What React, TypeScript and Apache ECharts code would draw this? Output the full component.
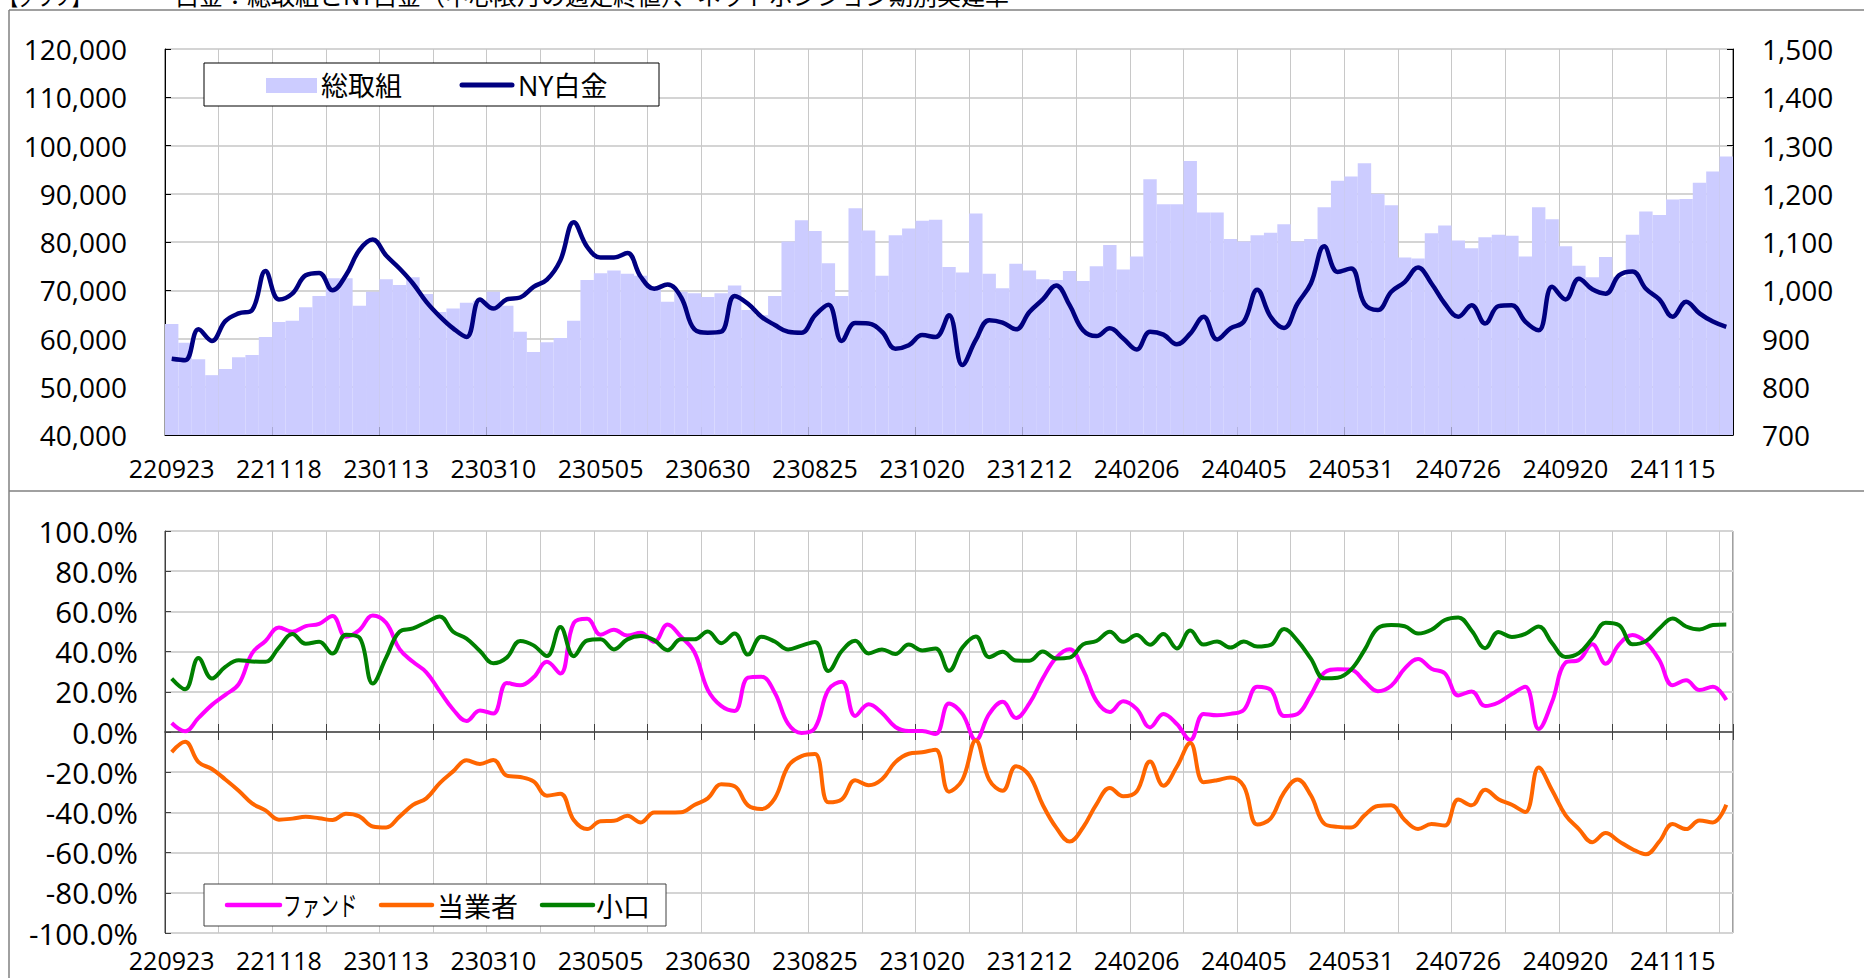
import React, { useEffect, useRef } from 'react';
import * as echarts from 'echarts';

const dates = [
  '220923','220930','221007','221014','221021','221028','221104','221111','221118','221125',
  '221202','221209','221216','221223','221230','230106','230113','230120','230127','230203',
  '230210','230217','230224','230303','230310','230317','230324','230331','230407','230414',
  '230421','230428','230505','230512','230519','230526','230602','230609','230616','230623',
  '230630','230707','230714','230721','230728','230804','230811','230818','230825','230901',
  '230908','230915','230922','230929','231006','231013','231020','231027','231103','231110',
  '231117','231124','231201','231205','231212','231222','231229','240105','240112','240119',
  '240126','240202','240206','240216','240223','240301','240308','240315','240322','240329',
  '240405','240412','240419','240426','240503','240510','240517','240524','240531','240607',
  '240614','240621','240628','240705','240712','240719','240726','240802','240809','240816',
  '240823','240830','240906','240913','240920','240927','241004','241011','241018','241025',
  '241101','241108','241115','241122','241129','241206','241213'
];

// 総取組 (left axis)
const totalOI = [
  63000, 59100, 55700, 52400, 53700, 56100, 56600, 60300, 63400, 63700,
  66500, 68800, 72500, 72500, 66800, 69700, 72300, 71100, 72700, 69200,
  65500, 66200, 67400, 67800, 69700, 66800, 61400, 57200, 59200, 60100,
  63700, 72100, 73500, 74100, 73400, 73000, 70800, 67600, 69700, 69400,
  68600, 69400, 71000, 65900, 64800, 68800, 80100, 84500, 82300, 75600,
  68800, 87000, 82400, 73000, 81400, 82800, 84400, 84600, 74800, 73700,
  85900, 73400, 70400, 75500, 74100, 72300, 72100, 74000, 71900, 75000,
  79400, 74300, 77000, 93000, 87800, 87800, 96800, 86100, 86100, 80600,
  80100, 81400, 81900, 83700, 80100, 80600, 87200, 92700, 93600, 96300,
  90000, 87600, 76800, 76600, 81800, 83400, 80300, 78700, 81000, 81500,
  81300, 77000, 87200, 84700, 79100, 75100, 72700, 76900, 72800, 81500,
  86300, 85600, 88800, 88900, 92300, 94600, 97700
];

// NY白金 (right axis)
const nyPlatinum = [
  858, 855, 919, 895, 936, 952, 959, 1040, 981, 993,
  1031, 1036, 1000, 1031, 1083, 1105, 1072, 1045, 1014, 976,
  946, 921, 903, 981, 962, 981, 985, 1007, 1022, 1062,
  1141, 1090, 1068, 1068, 1077, 1028, 1003, 1012, 986, 919,
  912, 914, 988, 972, 945, 928, 914, 912, 948, 970,
  895, 932, 931, 914, 879, 886, 907, 903, 948, 845,
  897, 938, 933, 919, 955, 981, 1010, 969, 917, 905,
  921, 900, 877, 914, 908, 888, 910, 945, 898, 921,
  935, 1001, 945, 922, 972, 1014, 1091, 1038, 1045, 972,
  959, 997, 1017, 1047, 1014, 972, 945, 969, 931, 967,
  969, 935, 917, 1007, 981, 1024, 1002, 993, 1031, 1039,
  1003, 981, 945, 976, 952, 935, 924
];

// ネットポジション比率 (%)
const fundRatio = [
  4.5, 0.4, 7, 13.5, 18.5, 23.8, 39.2, 45.3, 52, 49.9,
  52.7, 53.8, 57.7, 47.4, 50.7, 58, 54.3, 41.2, 34.9, 29.7,
  20.3, 11.2, 5.5, 10.7, 9.2, 24.4, 23.2, 27.2, 34.9, 29.1,
  54.2, 56.3, 48.4, 50.9, 48, 49.4, 44.9, 53.5, 47.4, 39.8,
  21, 13, 10.5, 27, 27.5, 19.5, 4, -0.5, 2, 21,
  25, 8, 13.8, 9.5, 2.5, 0.5, 0.5, -1, 14.2, 9,
  -4, 9, 15, 7, 14.2, 26.7, 37, 41.2, 31, 15.5,
  10, 15.3, 11.5, 2.3, 9, 4, -4, 9, 8.3, 9,
  11, 22.5, 21, 8, 9, 18.5, 29.5, 31.2, 31, 25.3,
  20.3, 23, 31.5, 36.3, 31.5, 29.2, 18.2, 20.2, 12.9, 14.7,
  18.9, 22.5, 1.5, 15, 34.5, 35.8, 43.6, 34, 43.6, 48.2,
  44.6, 35.8, 23.3, 25.7, 20.9, 22.5, 15.9
];

const traderRatio = [
  -10, -4.9, -15, -18.4, -23.6, -29.2, -35.5, -39, -43.6, -43.1,
  -42.2, -42.9, -43.8, -40.7, -42, -47, -47.5, -42.1, -36.3, -33,
  -25.4, -19.6, -14.1, -15.9, -13.9, -21.7, -22.4, -24.6, -31.7, -30.7,
  -43.8, -48.3, -44.4, -44.2, -41.7, -45, -40, -40, -39.9, -36.3,
  -33, -26, -27, -36.5, -38.3, -33, -17, -12, -11, -35,
  -33.5, -24, -26.5, -23.5, -15, -10.8, -10.1, -8.8, -29.7, -23.8,
  -4.2, -23.8, -29.2, -17, -21.7, -36.3, -47.6, -54.5, -47.5, -36,
  -27.8, -32, -29.6, -14.7, -26.7, -17.3, -5.5, -25, -24, -22.6,
  -27, -46, -43, -30, -23.6, -31.5, -45.6, -47.2, -47.5, -41.5,
  -36.8, -36.5, -43.8, -48.3, -45.8, -46.5, -33.6, -36.5, -28.7, -33.4,
  -36.2, -39.8, -17.7, -29, -41.3, -48.3, -54.8, -50.3, -54.4, -58.3,
  -60.8, -54.5, -45.8, -48.3, -44, -45, -36.2
];

const smallRatio = [
  26.6, 21.3, 36.8, 26.6, 32.4, 35.7, 35.1, 34.9, 42, 48.7,
  43.9, 44.9, 39, 48.4, 47, 24.1, 37, 49.9, 51.5, 54.6,
  57.5, 49.9, 46.5, 40.3, 34.2, 37, 45.3, 43.1, 37.8, 52.2,
  37.7, 45.5, 46.1, 41.1, 46.1, 47.7, 45.7, 40.7, 46.1, 46.1,
  50, 44.2, 49, 38.5, 47.4, 45, 41.1, 43, 44.8, 30.3,
  40.3, 45.4, 39.1, 41.1, 38.8, 43.5, 40.6, 41.6, 30.5, 42,
  47.5, 37.2, 39.9, 35.6, 35.5, 40, 36.6, 37, 43.6, 45.3,
  49.9, 44.9, 48.2, 43.4, 48.7, 41.6, 50.5, 43.5, 45, 42,
  45, 42.5, 43.3, 51.2, 45.5, 36.5, 26.7, 27, 31, 40.7,
  51.7, 53.2, 52.6, 49, 50.9, 55.7, 57, 50.4, 41.7, 49.8,
  47.3, 48.8, 52.5, 44.2, 37.3, 39.2, 46.5, 54.3, 53.1, 43.6,
  45.2, 51.5, 56.5, 52.5, 51, 53.2, 53.5
];

const seriesNames = ['総取組', 'NY白金', 'ファンド', '当業者', '小口'];
const seriesColors = ['#CCCCFF', '#000080', '#FF00FF', '#FF6600', '#008000'];

const FONT = "'Open Sans', 'Noto Sans CJK JP', sans-serif";
const CJK = "'Noto Sans CJK JP', 'Open Sans', sans-serif";
const GRID_V = '#C8C8C8';
const GRID_H = '#D4D4D4';
const BORDER = '#404040';

export default function App() {
  const ref = useRef<HTMLDivElement>(null);

  useEffect(() => {
    const chart = echarts.init(ref.current as HTMLDivElement, null, { renderer: 'svg' });
    const fmt = (v: number) => v.toLocaleString('en-US');
    const pct = (v: number) => v.toFixed(1) + '%';

    const labelTop = { interval: 7, fontSize: 25, margin: 20, color: '#000', fontFamily: FONT };
    const labelBottom = { interval: 7, fontSize: 25, margin: 14, color: '#000', fontFamily: FONT };

    const legendText = (text: string, x: number, y: number, scaleX = 1) => ({
      type: 'text', x, y, scaleX, z: 110,
      style: { text, fontSize: 27, fontFamily: FONT, fill: '#000', verticalAlign: 'middle', align: 'left' }
    });
    const legendLine = (x1: number, x2: number, y: number, color: string, w: number) => ({
      type: 'line', z: 110,
      shape: { x1, y1: y, x2, y2: y },
      style: { stroke: color, lineWidth: w, lineCap: 'round' }
    });

    chart.setOption({
      animation: false,
      backgroundColor: '#ffffff',
      textStyle: { fontFamily: FONT, color: '#000' },
      graphic: [
        { type: 'line', shape: { x1: 9, y1: 10, x2: 1864, y2: 10 }, style: { stroke: '#808080', lineWidth: 1.5 } },
        { type: 'line', shape: { x1: 9, y1: 10, x2: 9, y2: 978 }, style: { stroke: '#808080', lineWidth: 1.5 } },
        { type: 'line', shape: { x1: 9, y1: 491, x2: 1864, y2: 491 }, style: { stroke: '#808080', lineWidth: 1.5 } },
        {
          type: 'text', x: 0, y: -6, scaleX: 0.75,
          style: { text: '【グラフ】', fontSize: 24, fontFamily: CJK, fill: '#000', verticalAlign: 'middle' }
        },
        {
          type: 'text', x: 175, y: -6,
          style: {
            text: '白金：総取組とNY白金（中心限月の週足終値）、ネットポジション期別実建率',
            fontSize: 24, fontFamily: CJK, fill: '#000', verticalAlign: 'middle'
          }
        },
        // top legend
        { type: 'rect', z: 105, shape: { x: 204, y: 63, width: 455, height: 43 }, style: { fill: '#fff', stroke: '#000', lineWidth: 1 } },
        { type: 'rect', z: 110, shape: { x: 266, y: 78, width: 51, height: 15 }, style: { fill: seriesColors[0] } },
        legendText(seriesNames[0], 321, 85),
        legendLine(462, 512, 85, seriesColors[1], 5),
        legendText(seriesNames[1], 518, 85),
        // bottom legend
        { type: 'rect', z: 105, shape: { x: 204, y: 884, width: 462, height: 42 }, style: { fill: '#fff', stroke: BORDER, lineWidth: 1 } },
        legendLine(227, 280, 905, seriesColors[2], 4.5),
        legendText(seriesNames[2], 283, 906, 0.69),
        legendLine(381, 432, 905, seriesColors[3], 4.5),
        legendText(seriesNames[3], 437, 906),
        legendLine(542, 593, 905, seriesColors[4], 4.5),
        legendText(seriesNames[4], 596, 906)
      ],
      grid: [
        { left: 165, top: 49, width: 1568, height: 386, show: true, borderColor: BORDER, borderWidth: 1, backgroundColor: 'transparent' },
        { left: 165, top: 531, width: 1568, height: 402, show: true, borderColor: BORDER, borderWidth: 1, backgroundColor: 'transparent' }
      ],
      xAxis: [
        {
          type: 'category', gridIndex: 0, data: dates, boundaryGap: true,
          axisLine: { show: true, lineStyle: { color: '#000', width: 1 } },
          axisTick: { show: true, inside: true, interval: 7, length: 8, lineStyle: { color: '#000' } },
          axisLabel: labelTop,
          splitLine: { show: true, interval: 3, lineStyle: { color: GRID_V, width: 1 } }
        },
        {
          type: 'category', gridIndex: 1, data: dates, boundaryGap: true, position: 'bottom',
          axisLine: { show: false, onZero: false },
          axisTick: { show: false },
          axisLabel: labelBottom,
          splitLine: { show: true, interval: 3, lineStyle: { color: GRID_V, width: 1 } }
        },
        {
          type: 'category', gridIndex: 1, data: dates, boundaryGap: true, position: 'bottom',
          axisLine: { show: true, onZero: true, onZeroAxisIndex: 2, lineStyle: { color: BORDER, width: 1.5 } },
          axisTick: { show: true, inside: false, interval: 3, length: 8, lineStyle: { color: BORDER } },
          axisLabel: { show: false },
          splitLine: { show: false }
        },
        {
          type: 'category', gridIndex: 1, data: dates, boundaryGap: true, position: 'bottom',
          axisLine: { show: false, onZero: true, onZeroAxisIndex: 2 },
          axisTick: { show: true, inside: true, interval: 3, length: 8, lineStyle: { color: BORDER } },
          axisLabel: { show: false },
          splitLine: { show: false }
        }
      ],
      yAxis: [
        {
          type: 'value', gridIndex: 0, position: 'left', min: 40000, max: 120000, interval: 10000,
          axisLine: { show: true, lineStyle: { color: '#000' } },
          axisTick: { show: true, inside: true, length: 6, lineStyle: { color: '#000' } },
          axisLabel: { fontSize: 28, margin: 38, color: '#000', fontFamily: FONT, formatter: fmt },
          splitLine: { show: true, lineStyle: { color: GRID_H, width: 2 } }
        },
        {
          type: 'value', gridIndex: 0, position: 'right', min: 700, max: 1500, interval: 100,
          axisLine: { show: true, lineStyle: { color: '#000' } },
          axisTick: { show: true, inside: true, length: 6, lineStyle: { color: '#000' } },
          axisLabel: { fontSize: 28, margin: 29, color: '#000', fontFamily: FONT, formatter: fmt },
          splitLine: { show: false }
        },
        {
          type: 'value', gridIndex: 1, position: 'left', min: -100, max: 100, interval: 20,
          axisLine: { show: true, lineStyle: { color: BORDER } },
          axisTick: { show: true, inside: true, length: 6, lineStyle: { color: BORDER } },
          axisLabel: { fontSize: 29.5, margin: 27, color: '#000', fontFamily: FONT, formatter: pct },
          splitLine: { show: true, lineStyle: { color: GRID_H, width: 2 } }
        }
      ],
      series: [
        {
          name: seriesNames[0], type: 'bar', xAxisIndex: 0, yAxisIndex: 0, data: totalOI,
          barWidth: '100%', barGap: '0%', itemStyle: { color: seriesColors[0] }
        },
        {
          name: seriesNames[1], type: 'line', xAxisIndex: 0, yAxisIndex: 1, data: nyPlatinum,
          smooth: 0.4, symbol: 'none', lineStyle: { color: seriesColors[1], width: 4.5 }, itemStyle: { color: seriesColors[1] }
        },
        {
          name: seriesNames[2], type: 'line', xAxisIndex: 1, yAxisIndex: 2, data: fundRatio,
          smooth: 0.4, symbol: 'none', lineStyle: { color: seriesColors[2], width: 4 }, itemStyle: { color: seriesColors[2] }
        },
        {
          name: seriesNames[3], type: 'line', xAxisIndex: 1, yAxisIndex: 2, data: traderRatio,
          smooth: 0.4, symbol: 'none', lineStyle: { color: seriesColors[3], width: 4 }, itemStyle: { color: seriesColors[3] }
        },
        {
          name: seriesNames[4], type: 'line', xAxisIndex: 1, yAxisIndex: 2, data: smallRatio,
          smooth: 0.4, symbol: 'none', lineStyle: { color: seriesColors[4], width: 4 }, itemStyle: { color: seriesColors[4] }
        }
      ]
    });

    return () => chart.dispose();
  }, []);

  return (
    <div
      ref={ref}
      style={{ position: 'fixed', left: 0, top: 0, width: 1864, height: 978, background: '#fff' }}
    />
  );
}
